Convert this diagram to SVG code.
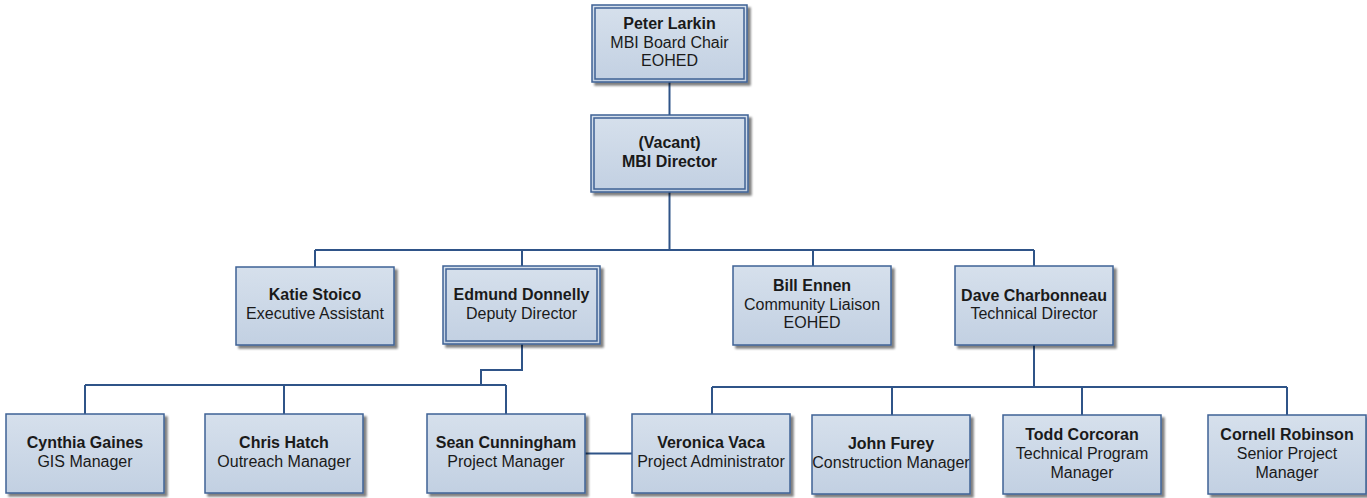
<svg xmlns="http://www.w3.org/2000/svg" width="1367" height="498" viewBox="0 0 1367 498">
<defs>
<linearGradient id="g" x1="0" y1="0" x2="0" y2="1">
<stop offset="0" stop-color="#d6e0ec"/>
<stop offset="1" stop-color="#c2d0e2"/>
</linearGradient>
<filter id="sh" x="-10%" y="-10%" width="130%" height="130%">
<feGaussianBlur in="SourceAlpha" stdDeviation="1"/>
<feOffset dx="3" dy="3" result="b"/>
<feComponentTransfer><feFuncA type="linear" slope="0.5"/></feComponentTransfer>
<feMerge><feMergeNode/><feMergeNode in="SourceGraphic"/></feMerge>
</filter>
</defs>
<style>
.box{fill:url(#g);stroke:#3f6295;stroke-width:1.5;filter:url(#sh)}
.inner{fill:none;stroke:#3f6295;stroke-width:1.5}
.t{font-family:"Liberation Sans",Arial,sans-serif;font-size:16px;fill:#1a1a1a;text-anchor:middle}
.b{font-weight:bold}
.c{fill:none;stroke:#2f5488;stroke-width:2}
</style>
<g id="connectors">
<path class="c" d="M669.5,82V115"/>
<path class="c" d="M669.5,192V250M315,250H1034M315,250V267M522,250V266M813,250V266M1034,250V266"/>
<path class="c" d="M522,344V370H481V385M85,385H506M85,385V414M284,385V414M506,385V414"/>
<path class="c" d="M1034,345V387M712,387H1287M712,387V414M892,387V415M1082,387V415M1287,387V415"/>
<path class="c" d="M585,453.5H632"/>
</g>
<g id="peter">
<rect class="box" x="592" y="5" width="155" height="77"/>
<rect class="inner" x="595" y="8" width="149" height="71"/>
<text class="t b" x="669.5" y="29">Peter Larkin</text>
<text class="t" x="669.5" y="48">MBI Board Chair</text>
<text class="t" x="669.5" y="66">EOHED</text>
</g>
<g id="vacant">
<rect class="box" x="591" y="115" width="157" height="77"/>
<rect class="inner" x="594" y="118" width="151" height="71"/>
<text class="t b" x="669.5" y="148">(Vacant)</text>
<text class="t b" x="669.5" y="167">MBI Director</text>
</g>
<g id="katie">
<rect class="box" x="236" y="267" width="158" height="78"/>
<text class="t b" x="315" y="300">Katie Stoico</text>
<text class="t" x="315" y="319">Executive Assistant</text>
</g>
<g id="edmund">
<rect class="box" x="443" y="266" width="157" height="78"/>
<rect class="inner" x="446" y="269" width="151" height="72"/>
<text class="t b" x="521.5" y="300">Edmund Donnelly</text>
<text class="t" x="521.5" y="319">Deputy Director</text>
</g>
<g id="bill">
<rect class="box" x="733" y="266" width="158" height="79"/>
<text class="t b" x="812" y="291">Bill Ennen</text>
<text class="t" x="812" y="310">Community Liaison</text>
<text class="t" x="812" y="328">EOHED</text>
</g>
<g id="dave">
<rect class="box" x="955" y="266" width="158" height="79"/>
<text class="t b" x="1034" y="301">Dave Charbonneau</text>
<text class="t" x="1034" y="319">Technical Director</text>
</g>
<g id="cynthia">
<rect class="box" x="6" y="414" width="158" height="79"/>
<text class="t b" x="85" y="448">Cynthia Gaines</text>
<text class="t" x="85" y="467">GIS Manager</text>
</g>
<g id="chris">
<rect class="box" x="205" y="414" width="158" height="79"/>
<text class="t b" x="284" y="448">Chris Hatch</text>
<text class="t" x="284" y="467">Outreach Manager</text>
</g>
<g id="sean">
<rect class="box" x="427" y="414" width="158" height="79"/>
<text class="t b" x="506" y="448">Sean Cunningham</text>
<text class="t" x="506" y="467">Project Manager</text>
</g>
<g id="veronica">
<rect class="box" x="632" y="414" width="158" height="79"/>
<text class="t b" x="711" y="448">Veronica Vaca</text>
<text class="t" x="711" y="467">Project Administrator</text>
</g>
<g id="john">
<rect class="box" x="812" y="415" width="158" height="79"/>
<text class="t b" x="891" y="449">John Furey</text>
<text class="t" x="891" y="468">Construction Manager</text>
</g>
<g id="todd">
<rect class="box" x="1003" y="415" width="158" height="79"/>
<text class="t b" x="1082" y="440">Todd Corcoran</text>
<text class="t" x="1082" y="459">Technical Program</text>
<text class="t" x="1082" y="478">Manager</text>
</g>
<g id="cornell">
<rect class="box" x="1208" y="415" width="158" height="79"/>
<text class="t b" x="1287" y="440">Cornell Robinson</text>
<text class="t" x="1287" y="459">Senior Project</text>
<text class="t" x="1287" y="478">Manager</text>
</g>
</svg>
